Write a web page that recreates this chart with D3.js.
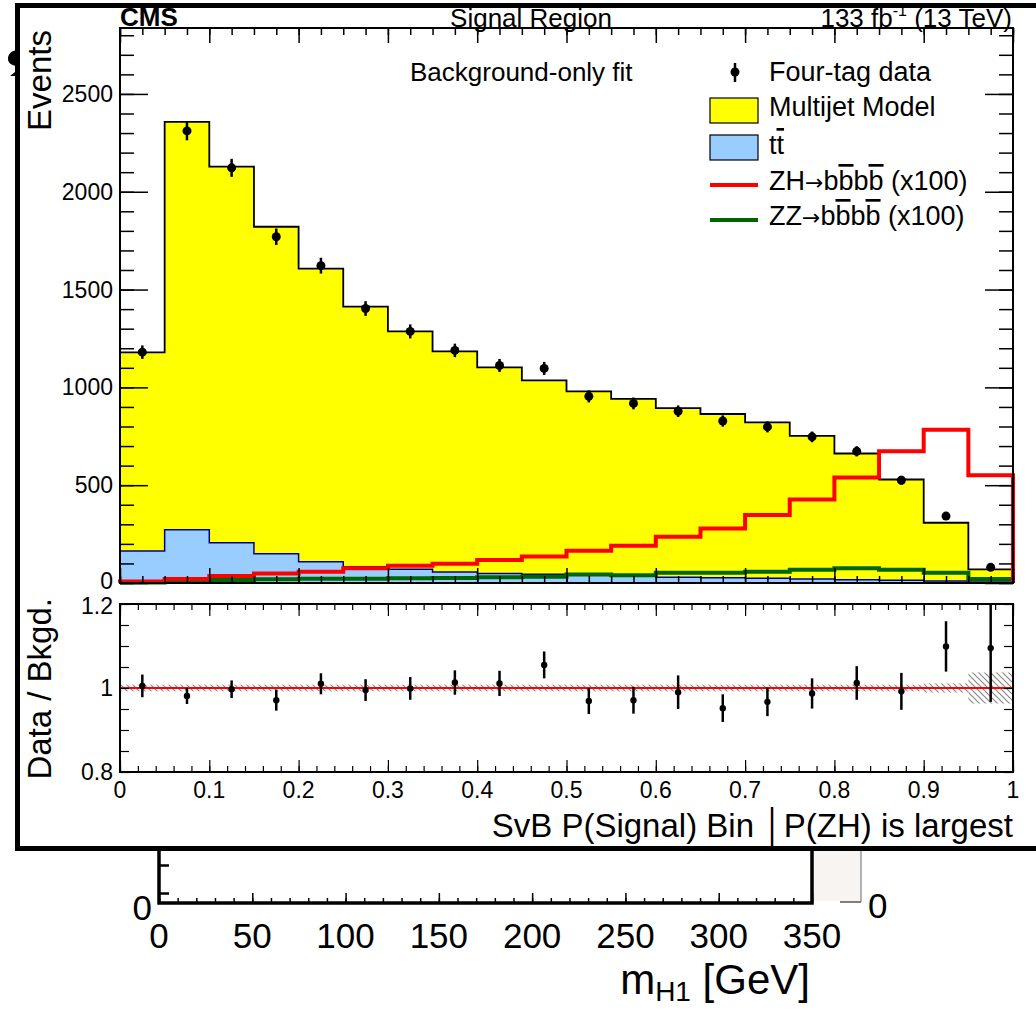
<!DOCTYPE html>
<html>
<head>
<meta charset="utf-8">
<script src="https://cdn.jsdelivr.net/npm/d3@7"></script>
<style>
  body { margin: 0; background: #fff; }
  text { font-family: "Liberation Sans", Arial, Helvetica, sans-serif; fill: #000; }
  .ov { text-decoration: overline; }
</style>
</head>
<body>
<div id="chart"></div>
<script>
// bin low edges of the SvB P(Signal) histogram
const binLo = [0, 0.05, 0.1, 0.15, 0.2, 0.25, 0.3, 0.35, 0.4, 0.45,
               0.5, 0.55, 0.6, 0.65, 0.7, 0.75, 0.8, 0.85, 0.9, 0.95];
const binW = 0.05;

// stacked backgrounds (events)
const ttbar    = [163, 272, 206, 150, 109, 83, 70, 56, 49, 45, 40, 35, 30, 27, 24, 20, 17, 14, 10, 5];
const multijet = [1016, 2085, 1922, 1671, 1498, 1330, 1216, 1128, 1053, 991, 940, 906, 864, 837, 797, 732, 645, 515, 298, 65];
// four-tag data
const data4b   = [1180, 2311, 2122, 1770, 1622, 1403, 1286, 1189, 1112, 1097, 954, 918, 878, 828, 798, 747, 673, 525, 342, 80];
// signals scaled x100
const zh       = [8, 20, 36, 48, 58, 75, 88, 99, 117, 136, 165, 190, 236, 279, 347, 427, 539, 673, 784, 551];
const zz       = [3, 8, 15, 19, 22, 22, 24, 26, 29, 32, 43, 40, 53, 53, 58, 68, 76, 68, 53, 20];

// ratio panel
const ratio    = [1.005, 0.981, 0.997, 0.971, 1.010, 0.995, 0.999, 1.013, 1.011, 1.055,
                  0.969, 0.971, 0.990, 0.952, 0.967, 0.987, 1.012, 0.992, 1.099, 1.095];
const ratioErr = [0.027, 0.019, 0.021, 0.025, 0.025, 0.026, 0.027, 0.029, 0.030, 0.032,
                  0.031, 0.032, 0.040, 0.033, 0.034, 0.036, 0.040, 0.044, 0.060, 0.128];
const bkgRelErr = [0.008, 0.008, 0.008, 0.008, 0.008, 0.008, 0.008, 0.008, 0.008, 0.008,
                   0.008, 0.008, 0.008, 0.008, 0.008, 0.008, 0.008, 0.008, 0.011, 0.037];

// tick values
const yTicksTop = [0, 500, 1000, 1500, 2000, 2500];
const yTicksRatio = [0.8, 1, 1.2];
const xTicks = [0, 0.1, 0.2, 0.3, 0.4, 0.5, 0.6, 0.7, 0.8, 0.9, 1];
const bgTicks = [0, 50, 100, 150, 200, 250, 300, 350];

const width = 1036, height = 1010;
const svg = d3.select("#chart").append("svg")
    .attr("width", width).attr("height", height);

svg.append("rect").attr("width", width).attr("height", height).attr("fill", "#fff");

// ---- the plot peeking out underneath ----
const bgX = d3.scaleLinear().domain([0, 350]).range([159, 812]);
const bgY = d3.scaleLinear().domain([0, 3]).range([907, 865]);
const bg = svg.append("g");

// bit of a glyph from the hidden plot, left of the frame
bg.append("path").attr("d", "M20,50C10,50 8,55 8,59C8,63 12,66 18,66L20,66ZM20,68L10,76L20,76Z")
    .attr("fill", "#000");

bg.append("rect").attr("x", 813).attr("y", 848).attr("width", 48).attr("height", 53)
    .attr("fill", "#f7f4f1");
bg.append("line").attr("x1", 861).attr("x2", 861).attr("y1", 848).attr("y2", 902)
    .attr("stroke", "#999").attr("stroke-width", 1.5);
bg.append("line").attr("x1", 840).attr("x2", 861).attr("y1", 902).attr("y2", 902)
    .attr("stroke", "#555").attr("stroke-width", 1.5);

bg.append("g").attr("transform", "translate(0,903)")
    .call(d3.axisTop(bgX).tickValues(d3.range(0, 351, 10)).tickSize(5).tickFormat(""))
    .call(g => g.select(".domain").remove())
    .call(g => g.selectAll("line").attr("stroke-width", 1.5));
bg.append("g").attr("transform", "translate(0,903)")
    .call(d3.axisTop(bgX).tickValues(bgTicks).tickSize(10).tickFormat(""))
    .call(g => g.select(".domain").remove())
    .call(g => g.selectAll("line").attr("stroke-width", 1.5));
bg.append("g").attr("transform", "translate(159,0)")
    .call(d3.axisRight(bgY).tickValues([1, 3]).tickSize(10).tickFormat(""))
    .call(g => g.select(".domain").remove())
    .call(g => g.selectAll("line").attr("stroke-width", 2.5));
bg.append("path").attr("d", `M159,848V903H812V848`).attr("fill", "none")
    .attr("stroke", "#000").attr("stroke-width", 3.5);

bg.selectAll("text.bgt").data(bgTicks).enter().append("text")
    .attr("class", "bgt").attr("x", d => bgX(d)).attr("y", 948)
    .attr("text-anchor", "middle").attr("font-size", 35).text(d => d);
bg.append("text").attr("x", 152).attr("y", bgY(0) + 13).attr("text-anchor", "end")
    .attr("font-size", 35).text("0");
bg.append("text").attr("x", 868).attr("y", bgY(0) + 11).attr("text-anchor", "start")
    .attr("font-size", 35).text("0");
const mt = bg.append("text").attr("x", 810).attr("y", 994).attr("text-anchor", "end")
    .attr("font-size", 42);
mt.append("tspan").text("m");
mt.append("tspan").attr("font-size", 28).attr("dy", 7).text("H1");
mt.append("tspan").attr("dy", -7).text(" [GeV]");

// ---- main canvas frame ----
svg.append("rect").attr("x", 17.5).attr("y", 5.5).attr("width", 1030).attr("height", 843)
    .attr("fill", "#fff").attr("stroke", "#000").attr("stroke-width", 5);

// ---- scales ----
const x = d3.scaleLinear().domain([0, 1]).range([120, 1013]);
const y = d3.scaleLinear().domain([0, 2837]).range([583, 28]);
const yr = d3.scaleLinear().domain([0.8, 1.2]).range([772, 604]);

const stackTop = multijet.map((m, i) => m + ttbar[i]);

// step helpers
function stepPts(vals) {
  const pts = binLo.map((lo, i) => [lo, vals[i]]);
  pts.push([1, vals[vals.length - 1]]);
  return pts;
}
const area = d3.area().curve(d3.curveStepAfter)
    .x(d => x(d[0])).y0(y(0)).y1(d => y(d[1]));
// outline with drops to zero at both ends
function outline(vals) {
  const p = [[0, 0]];
  binLo.forEach((lo, i) => { p.push([lo, vals[i]]); p.push([lo + binW, vals[i]]); });
  p.push([1, 0]);
  return d3.line().x(d => x(d[0])).y(d => y(d[1]))(p);
}

const upper = svg.append("g");
upper.append("path").attr("d", area(stepPts(stackTop))).attr("fill", "#ffff00");
upper.append("path").attr("d", area(stepPts(ttbar))).attr("fill", "#99ccff");
upper.append("path").attr("d", outline(ttbar)).attr("fill", "none")
    .attr("stroke", "#000099").attr("stroke-width", 1.5);
upper.append("path").attr("d", outline(stackTop)).attr("fill", "none")
    .attr("stroke", "#000").attr("stroke-width", 1.8);
upper.append("path").attr("d", outline(zz)).attr("fill", "none")
    .attr("stroke", "#006600").attr("stroke-width", 4);
upper.append("path").attr("d", outline(zh)).attr("fill", "none")
    .attr("stroke", "#ff0000").attr("stroke-width", 4);

// data points
const pts = upper.selectAll("g.pt").data(data4b).enter().append("g").attr("class", "pt");
pts.append("line")
    .attr("x1", (d, i) => x(binLo[i] + binW / 2)).attr("x2", (d, i) => x(binLo[i] + binW / 2))
    .attr("y1", d => y(d + Math.sqrt(d))).attr("y2", d => y(d - Math.sqrt(d)))
    .attr("stroke", "#000").attr("stroke-width", 2.5);
pts.append("circle")
    .attr("cx", (d, i) => x(binLo[i] + binW / 2)).attr("cy", d => y(d))
    .attr("r", 4.5).attr("fill", "#000");

// ---- upper axes ----
function tickAxis(g, axisFn, scale, vals, size, w) {
  g.call(axisFn(scale).tickValues(vals).tickSize(size).tickFormat(""))
   .call(s => s.select(".domain").remove())
   .call(s => s.selectAll("line").attr("stroke", "#000").attr("stroke-width", w || 1.5));
}
const minorX = d3.range(0, 41).map(i => i * 0.025);
tickAxis(svg.append("g").attr("transform", "translate(0,583)"), d3.axisTop, x, minorX, 7);
tickAxis(svg.append("g").attr("transform", "translate(0,583)"), d3.axisTop, x, xTicks, 15);
tickAxis(svg.append("g").attr("transform", "translate(0,28)"), d3.axisBottom, x, minorX, 7);
tickAxis(svg.append("g").attr("transform", "translate(0,28)"), d3.axisBottom, x, xTicks, 15);
const minorY = d3.range(0, 29).map(i => i * 100);
tickAxis(svg.append("g").attr("transform", "translate(120,0)"), d3.axisRight, y, minorY, 14);
tickAxis(svg.append("g").attr("transform", "translate(120,0)"), d3.axisRight, y, yTicksTop, 28);
tickAxis(svg.append("g").attr("transform", "translate(1013,0)"), d3.axisLeft, y, minorY, 14);
tickAxis(svg.append("g").attr("transform", "translate(1013,0)"), d3.axisLeft, y, yTicksTop, 28);
svg.append("rect").attr("x", 120).attr("y", 28).attr("width", 893).attr("height", 555)
    .attr("fill", "none").attr("stroke", "#000").attr("stroke-width", 2);

svg.selectAll("text.yt").data(yTicksTop).enter().append("text")
    .attr("class", "yt").attr("x", 113).attr("y", d => y(d) + (d === 0 ? 6 : 8))
    .attr("text-anchor", "end").attr("font-size", 23).text(d => d);

svg.append("text").attr("transform", "translate(51,30) rotate(-90)")
    .attr("text-anchor", "end").attr("font-size", 33).text("Events");

// header
svg.append("text").attr("x", 120).attr("y", 26).attr("font-size", 26)
    .attr("font-weight", "bold").text("CMS");
svg.append("text").attr("x", 531).attr("y", 27).attr("font-size", 26)
    .attr("text-anchor", "middle").text("Signal Region");
const lumi = svg.append("text").attr("x", 1012).attr("y", 27).attr("font-size", 26)
    .attr("text-anchor", "end");
lumi.append("tspan").text("133 fb");
lumi.append("tspan").attr("font-size", 16).attr("dy", -11).text("-1");
lumi.append("tspan").attr("dy", 11).text(" (13 TeV)");

// legend
svg.append("text").attr("x", 410).attr("y", 81).attr("font-size", 26).text("Background-only fit");
const lg = svg.append("g");
lg.append("line").attr("x1", 735).attr("x2", 735).attr("y1", 63).attr("y2", 82)
    .attr("stroke", "#000").attr("stroke-width", 2.5);
lg.append("circle").attr("cx", 735).attr("cy", 72).attr("r", 4.5).attr("fill", "#000");
lg.append("rect").attr("x", 710).attr("y", 98).attr("width", 48).attr("height", 25)
    .attr("fill", "#ffff00").attr("stroke", "#000").attr("stroke-width", 1.2);
lg.append("rect").attr("x", 710).attr("y", 135).attr("width", 48).attr("height", 25)
    .attr("fill", "#99ccff").attr("stroke", "#000").attr("stroke-width", 1.2);
lg.append("line").attr("x1", 710).attr("x2", 758).attr("y1", 185).attr("y2", 185)
    .attr("stroke", "#ff0000").attr("stroke-width", 4);
lg.append("line").attr("x1", 710).attr("x2", 758).attr("y1", 220).attr("y2", 220)
    .attr("stroke", "#006600").attr("stroke-width", 4);

lg.append("text").attr("x", 769).attr("y", 81).attr("font-size", 27).text("Four-tag data");
lg.append("text").attr("x", 769).attr("y", 116).attr("font-size", 27).text("Multijet Model");
const ttl = lg.append("text").attr("x", 769).attr("y", 154).attr("font-size", 27);
ttl.append("tspan").text("t");
ttl.append("tspan").attr("class", "ov").text("t");
function decayLabel(yy, head) {
  const t = lg.append("text").attr("x", 769).attr("y", yy).attr("font-size", 27);
  t.append("tspan").text(head);
  t.append("tspan").attr("font-family", "DejaVu Sans").attr("font-size", 22).text("\u2192");
  t.append("tspan").text("b");
  t.append("tspan").attr("class", "ov").text("b");
  t.append("tspan").text("b");
  t.append("tspan").attr("class", "ov").text("b");
  t.append("tspan").text(" (x100)");
}
decayLabel(190, "ZH");
decayLabel(225, "ZZ");

// ---- ratio panel ----
const defs = svg.append("defs");
const pat = defs.append("pattern").attr("id", "hatch").attr("patternUnits", "userSpaceOnUse")
    .attr("width", 6).attr("height", 6);
pat.append("path").attr("d", "M-1,-1L7,7M-7,-1L1,7M5,-1L13,7").attr("stroke", "#888")
    .attr("stroke-width", 1.2);
defs.append("clipPath").attr("id", "rclip").append("rect")
    .attr("x", 120).attr("y", 604).attr("width", 893).attr("height", 168);

const rg = svg.append("g").attr("clip-path", "url(#rclip)");
rg.selectAll("rect.band").data(bkgRelErr).enter().append("rect").attr("class", "band")
    .attr("x", (d, i) => x(binLo[i])).attr("width", x(binW) - x(0))
    .attr("y", d => yr(1 + d)).attr("height", d => yr(1 - d) - yr(1 + d))
    .attr("fill", "url(#hatch)");
rg.append("line").attr("x1", x(0)).attr("x2", x(1)).attr("y1", yr(1)).attr("y2", yr(1))
    .attr("stroke", "#ff0000").attr("stroke-width", 2);
const rp = rg.selectAll("g.rp").data(ratio).enter().append("g").attr("class", "rp");
rp.append("line")
    .attr("x1", (d, i) => x(binLo[i] + binW / 2)).attr("x2", (d, i) => x(binLo[i] + binW / 2))
    .attr("y1", (d, i) => yr(d + ratioErr[i])).attr("y2", (d, i) => yr(d - ratioErr[i]))
    .attr("stroke", "#000").attr("stroke-width", 2.5);
rp.append("circle")
    .attr("cx", (d, i) => x(binLo[i] + binW / 2)).attr("cy", d => yr(d))
    .attr("r", 3.2).attr("fill", "#000");

const minorXr = d3.range(0, 51).map(i => i * 0.02);
tickAxis(svg.append("g").attr("transform", "translate(0,772)"), d3.axisTop, x, minorXr, 6, 1.2);
tickAxis(svg.append("g").attr("transform", "translate(0,772)"), d3.axisTop, x, xTicks, 12, 1.2);
tickAxis(svg.append("g").attr("transform", "translate(0,604)"), d3.axisBottom, x, minorXr, 6, 1.2);
tickAxis(svg.append("g").attr("transform", "translate(0,604)"), d3.axisBottom, x, xTicks, 12, 1.2);
const minorYr = d3.range(0, 9).map(i => 0.8 + i * 0.05);
tickAxis(svg.append("g").attr("transform", "translate(120,0)"), d3.axisRight, yr, minorYr, 9, 1.2);
tickAxis(svg.append("g").attr("transform", "translate(1013,0)"), d3.axisLeft, yr, minorYr, 9, 1.2);
svg.append("rect").attr("x", 120).attr("y", 604).attr("width", 893).attr("height", 168)
    .attr("fill", "none").attr("stroke", "#000").attr("stroke-width", 2);

svg.selectAll("text.yrt").data(yTicksRatio).enter().append("text")
    .attr("class", "yrt").attr("x", 113).attr("y", d => yr(d) + (d === 1.2 ? 10 : 8))
    .attr("text-anchor", "end").attr("font-size", 23).text(d => d);
svg.selectAll("text.xt").data(xTicks).enter().append("text")
    .attr("class", "xt").attr("x", d => x(d)).attr("y", 798)
    .attr("text-anchor", "middle").attr("font-size", 23).text(d => d);

svg.append("text").attr("transform", "translate(51,598) rotate(-90)")
    .attr("text-anchor", "end").attr("font-size", 33).text("Data / Bkgd.");
svg.append("text").attr("x", 1013).attr("y", 837).attr("text-anchor", "end")
    .attr("font-size", 33).text("SvB P(Signal) Bin  \u2502P(ZH) is largest");
</script>
</body>
</html>
